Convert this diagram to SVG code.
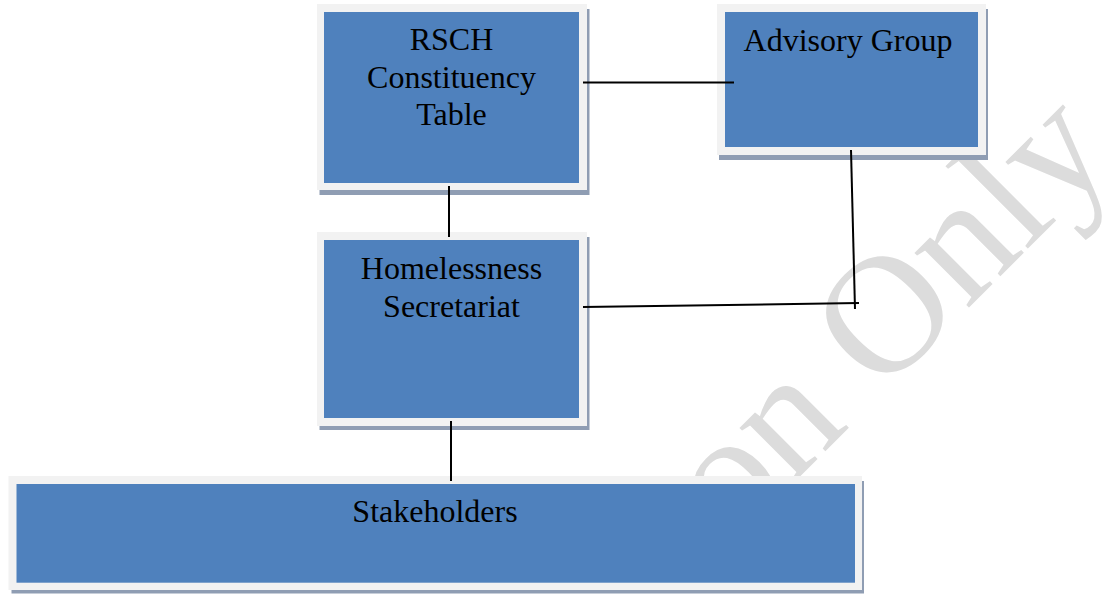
<svg xmlns="http://www.w3.org/2000/svg" width="1105" height="594" viewBox="0 0 1105 594">
<style>
.shadow{fill:#8f9db3}
.outer{fill:#f2f2f2}
.inner{fill:#4f81bd}
.lbl{font-family:"Liberation Serif","Times New Roman",serif;font-size:32px;fill:#000;text-anchor:middle}
.wm{font-family:"Liberation Serif","Times New Roman",serif;font-size:168px;fill:#dcdcdc;text-anchor:end}
.conn line{stroke:#000;stroke-width:2;stroke-linecap:butt}
</style>
<rect width="1105" height="594" fill="#fff"/>
<text class="wm" transform="translate(1118,158.5) rotate(-45)">on Only</text>
<g id="rsch">
<rect class="shadow" x="319.5" y="9" width="270" height="186"/>
<rect class="outer" x="317" y="4" width="270" height="186"/>
<rect class="inner" x="324" y="12" width="255" height="171"/>
<text class="lbl" x="451.5" y="50">RSCH</text>
<text class="lbl" x="451.5" y="87.5">Constituency</text>
<text class="lbl" x="451.5" y="125">Table</text>
</g>
<g id="advisory">
<rect class="shadow" x="719" y="9" width="269" height="151"/>
<rect class="outer" x="717" y="4" width="269" height="151"/>
<rect class="inner" x="725" y="12" width="253" height="135"/>
<text class="lbl" x="848" y="51">Advisory Group</text>
</g>
<g id="secretariat">
<rect class="shadow" x="319.5" y="237" width="270" height="193"/>
<rect class="outer" x="317" y="232" width="270" height="194"/>
<rect class="inner" x="324" y="240" width="255" height="178"/>
<text class="lbl" x="451.5" y="279">Homelessness</text>
<text class="lbl" x="451.5" y="317">Secretariat</text>
</g>
<g id="stakeholders">
<rect class="shadow" x="11.5" y="481" width="852.5" height="112.5"/>
<rect class="outer" x="8.5" y="476" width="853.5" height="114"/>
<rect class="inner" x="16.5" y="484" width="838.5" height="98.7"/>
<text class="lbl" x="435" y="522">Stakeholders</text>
</g>
<g id="connectors" class="conn">
<line x1="583" y1="82.5" x2="734" y2="82.5"/>
<line x1="449" y1="186" x2="449" y2="237"/>
<line x1="851" y1="150" x2="855" y2="309"/>
<line x1="583" y1="307" x2="859" y2="303"/>
<line x1="451" y1="421" x2="451" y2="481"/>
</g>
</svg>
